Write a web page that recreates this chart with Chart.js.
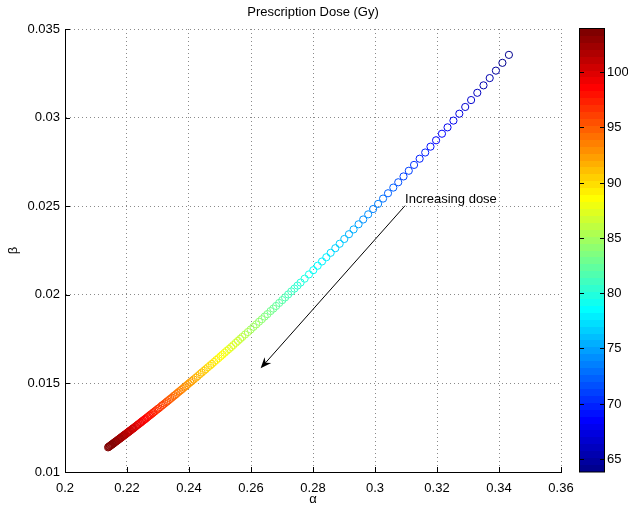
<!DOCTYPE html>
<html>
<head>
<meta charset="utf-8">
<script src="https://cdn.jsdelivr.net/npm/chart.js@4.4.1/dist/chart.umd.min.js"></script>
<style>
  html, body { margin: 0; padding: 0; background: #fff; }
  #wrap { position: relative; width: 628px; height: 506px; }
</style>
</head>
<body>
<div id="wrap"><canvas id="doseChart" width="628" height="506"></canvas></div>
<script>
// prescription dose (Gy) for each fitted point (denser sampling at high dose)
const dose = [
  64, 64.4, 64.8, 65.2, 65.6, 66, 66.4, 66.8, 67.2, 67.6,
  68, 68.4, 68.8, 69.2, 69.6, 70, 70.4, 70.8, 71.2, 71.6,
  72, 72.4, 72.8, 73.2, 73.6, 74, 74.4, 74.8, 75.2, 75.6,
  76, 76.4, 76.8, 77.2, 77.6, 78, 78.4, 78.8, 79.2, 79.6,
  80,
  80.3, 80.6, 80.9, 81.2, 81.5, 81.8, 82.1, 82.4, 82.7, 83,
  83.3, 83.6, 83.9, 84.2, 84.5, 84.8, 85.1, 85.4, 85.7, 86,
  86.25, 86.5, 86.75, 87, 87.25, 87.5, 87.75, 88, 88.25, 88.5,
  88.75, 89, 89.25, 89.5, 89.75, 90, 90.25, 90.5, 90.75, 91,
  91.25, 91.5, 91.75, 92,
  92.2, 92.4, 92.6, 92.8, 93, 93.2, 93.4, 93.6, 93.8, 94,
  94.2, 94.4, 94.6, 94.8, 95, 95.2, 95.4, 95.6, 95.8, 96,
  96.2, 96.4, 96.6, 96.8, 97,
  97.15, 97.3, 97.45, 97.6, 97.75, 97.9, 98.05, 98.2, 98.35, 98.5,
  98.65, 98.8, 98.95, 99.1, 99.25, 99.4, 99.55, 99.7, 99.85, 100,
  100.1, 100.2, 100.3, 100.4, 100.5, 100.6, 100.7, 100.8, 100.9, 101,
  101.1, 101.2, 101.3, 101.4, 101.5, 101.6, 101.7, 101.8, 101.9, 102,
  102.1, 102.2, 102.3, 102.4, 102.5, 102.6, 102.7, 102.8, 102.9, 103,
  103.1, 103.2, 103.3, 103.4, 103.5, 103.6, 103.7, 103.8, 103.9, 104
];
const alpha = [
  .3432, .3411, .3390, .3370, .3350, .3330, .3310, .3291, .3272, .3253,
  .3234, .3216, .3197, .3179, .3162, .3144, .3126, .3109, .3092, .3075,
  .3059, .3042, .3026, .3010, .2994, .2978, .2962, .2947, .2931, .2916,
  .2901, .2886, .2872, .2857, .2843, .2829, .2815, .2801, .2787, .2773,
  .2760,
  .2750, .2740, .2730, .2720, .2710, .2701, .2691, .2681, .2672, .2663,
  .2653, .2644, .2635, .2626, .2617, .2608, .2599, .2590, .2581, .2572,
  .2565, .2558, .2551, .2543, .2536, .2529, .2522, .2515, .2508, .2502,
  .2495, .2488, .2481, .2474, .2468, .2461, .2454, .2448, .2441, .2435,
  .2428, .2422, .2415, .2409,
  .2404, .2399, .2394, .2389, .2384, .2379, .2374, .2369, .2364, .2359,
  .2354, .2350, .2345, .2340, .2335, .2330, .2326, .2321, .2316, .2312,
  .2307, .2302, .2298, .2293, .2289,
  .2285, .2282, .2278, .2275, .2272, .2268, .2265, .2261, .2258, .2255,
  .2251, .2248, .2245, .2242, .2238, .2235, .2232, .2228, .2225, .2222,
  .2220, .2218, .2216, .2213, .2211, .2209, .2207, .2205, .2203, .2201,
  .2199, .2196, .2194, .2192, .2190, .2188, .2186, .2184, .2182, .2180,
  .2178, .2176, .2174, .2172, .2170, .2167, .2165, .2163, .2161, .2159,
  .2157, .2155, .2153, .2151, .2149, .2147, .2145, .2143, .2141, .2139
];
const beta = [
  .03354, .03309, .03265, .03223, .03182, .03140, .03099, .03060, .03022, .02983,
  .02945, .02909, .02872, .02836, .02803, .02768, .02733, .02700, .02668, .02635,
  .02605, .02573, .02543, .02513, .02484, .02454, .02425, .02398, .02369, .02342,
  .02315, .02288, .02263, .02237, .02212, .02188, .02164, .02139, .02115, .02091,
  .02069,
  .02052, .02035, .02019, .02002, .01985, .01970, .01954, .01937, .01922, .01908,
  .01891, .01877, .01862, .01848, .01833, .01819, .01804, .01790, .01776, .01762,
  .01751, .01740, .01729, .01716, .01705, .01694, .01684, .01673, .01662, .01653,
  .01642, .01632, .01621, .01610, .01601, .01591, .01580, .01571, .01561, .01552,
  .01541, .01532, .01522, .01513,
  .01506, .01499, .01491, .01484, .01477, .01469, .01462, .01455, .01448, .01440,
  .01433, .01428, .01420, .01413, .01406, .01399, .01393, .01386, .01379, .01374,
  .01366, .01359, .01354, .01347, .01341,
  .01336, .01331, .01326, .01322, .01318, .01312, .01308, .01302, .01298, .01294,
  .01289, .01285, .01280, .01276, .01271, .01267, .01263, .01257, .01253, .01249,
  .01246, .01244, .01241, .01237, .01234, .01232, .01229, .01226, .01224, .01221,
  .01218, .01214, .01212, .01209, .01206, .01204, .01201, .01198, .01196, .01193,
  .01190, .01188, .01185, .01182, .01180, .01176, .01173, .01171, .01168, .01165,
  .01163, .01160, .01157, .01155, .01152, .01150, .01147, .01144, .01142, .01139
];

const xTicks = [0.2, 0.22, 0.24, 0.26, 0.28, 0.3, 0.32, 0.34, 0.36];
const yTicks = [0.01, 0.015, 0.02, 0.025, 0.03, 0.035];
const cbTicks = [65, 70, 75, 80, 85, 90, 95, 100];
const cbRange = [63.8, 103.9];

const noteText = 'Increasing dose';
const noteFrom = [0.3097, 0.02503];
const noteTo = [0.2631, 0.01585];

const FONT = "'Liberation Sans', Arial, Helvetica, sans-serif";
const GRID = '#8a8a8a';

// MATLAB jet(64)
const jetU = [];
for (let k = 1; k <= 16; k++) jetU.push(k / 16);
for (let k = 0; k < 15; k++) jetU.push(1);
for (let k = 16; k >= 1; k--) jetU.push(k / 16);
function jet(i) {
  const j = i + 1;
  const pick = k => (k >= 1 && k <= jetU.length) ? jetU[k - 1] : 0;
  const r = j >= 25 ? pick(j - 24) : 0;
  const g = (j >= 9 && j <= 55) ? pick(j - 8) : 0;
  const b = j <= 39 ? pick(j + 8) : 0;
  return 'rgb(' + Math.round(r * 255) + ',' + Math.round(g * 255) + ',' + Math.round(b * 255) + ')';
}
function doseColor(d) {
  let i = Math.floor((d - cbRange[0]) / (cbRange[1] - cbRange[0]) * 64);
  return jet(Math.max(0, Math.min(63, i)));
}

const fmt = v => String(+Number(v).toFixed(4));

// inward tick marks on the left and bottom axes
const innerTicks = {
  id: 'innerTicks',
  afterDraw(chart) {
    const ctx = chart.ctx, xs = chart.scales.x, ys = chart.scales.y;
    const a = chart.chartArea;
    ctx.save();
    ctx.strokeStyle = '#000';
    ctx.lineWidth = 1;
    ctx.beginPath();
    xTicks.forEach(v => {
      const px = Math.round(xs.getPixelForValue(v)) + 0.5;
      ctx.moveTo(px, a.bottom);
      ctx.lineTo(px, a.bottom - 5);
    });
    yTicks.forEach(v => {
      const py = Math.round(ys.getPixelForValue(v)) + 0.5;
      ctx.moveTo(a.left, py);
      ctx.lineTo(a.left + 5, py);
    });
    ctx.stroke();
    ctx.restore();
  }
};

// annotation arrow + text
const note = {
  id: 'note',
  afterDraw(chart) {
    const ctx = chart.ctx, xs = chart.scales.x, ys = chart.scales.y;
    const x0 = xs.getPixelForValue(noteFrom[0]), y0 = ys.getPixelForValue(noteFrom[1]);
    const x1 = xs.getPixelForValue(noteTo[0]), y1 = ys.getPixelForValue(noteTo[1]);
    const len = Math.hypot(x1 - x0, y1 - y0);
    const dx = (x1 - x0) / len, dy = (y1 - y0) / len;
    const nx = -dy, ny = dx;
    ctx.save();
    ctx.strokeStyle = '#000';
    ctx.fillStyle = '#000';
    ctx.lineWidth = 1;
    ctx.beginPath();
    ctx.moveTo(x0, y0);
    ctx.lineTo(x1 - dx * 7, y1 - dy * 7);
    ctx.stroke();
    ctx.beginPath();
    ctx.moveTo(x1, y1);
    ctx.lineTo(x1 - dx * 11 + nx * 4.5, y1 - dy * 11 + ny * 4.5);
    ctx.lineTo(x1 - dx * 7.5, y1 - dy * 7.5);
    ctx.lineTo(x1 - dx * 11 - nx * 4.5, y1 - dy * 11 - ny * 4.5);
    ctx.closePath();
    ctx.fill();
    ctx.font = '13px ' + FONT;
    ctx.textAlign = 'left';
    ctx.textBaseline = 'middle';
    ctx.fillText(noteText, x0, y0 - 6);
    ctx.restore();
  }
};

// colour bar drawn against the hidden 'cb' scale
const colorbar = {
  id: 'colorbar',
  afterDraw(chart) {
    const ctx = chart.ctx, cb = chart.scales.cb;
    const left = 579, w = 25;
    const span = cbRange[1] - cbRange[0];
    ctx.save();
    for (let i = 0; i < 64; i++) {
      const yb = Math.round(cb.getPixelForValue(cbRange[0] + span * i / 64));
      const yt = Math.round(cb.getPixelForValue(cbRange[0] + span * (i + 1) / 64));
      ctx.fillStyle = jet(i);
      ctx.fillRect(left, yt, w, yb - yt);
    }
    const top = Math.round(cb.getPixelForValue(cbRange[1]));
    const bot = Math.round(cb.getPixelForValue(cbRange[0]));
    ctx.strokeStyle = '#000';
    ctx.lineWidth = 1;
    ctx.strokeRect(left + 0.5, top - 0.5, w, bot - top + 0.5);
    ctx.beginPath();
    ctx.font = '13px ' + FONT;
    ctx.fillStyle = '#000';
    ctx.textAlign = 'left';
    ctx.textBaseline = 'middle';
    cbTicks.forEach(t => {
      const py = Math.round(cb.getPixelForValue(t)) + 0.5;
      ctx.moveTo(left, py); ctx.lineTo(left + 5, py);
      ctx.moveTo(left + w - 4, py); ctx.lineTo(left + w + 1, py);
      ctx.fillText(String(t), left + w + 3, py);
    });
    ctx.stroke();
    ctx.restore();
  }
};

const points = alpha.map((a, i) => ({ x: a, y: beta[i] }));

new Chart(document.getElementById('doseChart'), {
  type: 'scatter',
  data: {
    datasets: [{
      label: 'dose',
      data: points,
      showLine: false,
      pointStyle: 'circle',
      pointRadius: 3.6,
      pointBorderWidth: 1,
      pointBackgroundColor: 'rgba(0,0,0,0)',
      pointBorderColor: dose.map(doseColor)
    }]
  },
  options: {
    responsive: false,
    animation: false,
    events: [],
    layout: { padding: { left: 0, top: 0, right: 67, bottom: 0 } },
    plugins: {
      legend: { display: false },
      tooltip: { enabled: false },
      title: {
        display: true,
        fullSize: false,
        text: 'Prescription Dose (Gy)',
        color: '#000',
        font: { family: FONT, size: 13, weight: 'normal' },
        padding: { top: 5, bottom: 8.4 }
      }
    },
    scales: {
      x: {
        type: 'linear',
        min: 0.2, max: 0.36,
        afterBuildTicks: s => { s.ticks = xTicks.map(v => ({ value: v })); },
        afterFit: s => { s.height = 34; },
        ticks: { color: '#000', font: { family: FONT, size: 13 }, padding: 9, callback: fmt, maxRotation: 0 },
        grid: { drawTicks: false, color: c => (c.tick && c.tick.value === 0.2) ? 'rgba(0,0,0,0)' : GRID },
        border: { display: true, color: '#000', width: 1, dash: [1, 3] },
        title: { display: true, text: 'α', color: '#000', font: { family: FONT, size: 13, lineHeight: 1 }, padding: 0 }
      },
      y: {
        type: 'linear',
        min: 0.01, max: 0.035,
        afterBuildTicks: s => { s.ticks = yTicks.map(v => ({ value: v })); },
        afterFit: s => { s.width = 65; },
        ticks: { color: '#000', font: { family: FONT, size: 13 }, padding: 5, callback: fmt },
        grid: { drawTicks: false, color: c => (c.tick && c.tick.value === 0.01) ? 'rgba(0,0,0,0)' : GRID },
        border: { display: true, color: '#000', width: 1, dash: [1, 3] },
        title: { display: true, text: 'β', color: '#000', font: { family: FONT, size: 13 }, padding: { top: 6, bottom: 0 } }
      },
      cb: {
        type: 'linear',
        axis: 'y',
        display: false,
        min: cbRange[0], max: cbRange[1]
      }
    }
  },
  plugins: [innerTicks, colorbar, note]
});
</script>
</body>
</html>
